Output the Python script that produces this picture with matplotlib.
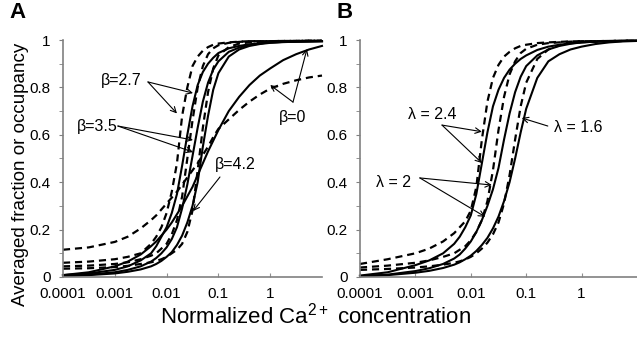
import matplotlib
matplotlib.use("Agg")
import matplotlib.pyplot as plt
import numpy as np

plt.rcParams['font.family'] = ['Liberation Sans', 'DejaVu Sans']
plt.rcParams['mathtext.fontset'] = 'custom'
plt.rcParams['mathtext.rm'] = 'Liberation Sans'
plt.rcParams['mathtext.it'] = 'Liberation Sans:italic'

# log10 of normalized Ca2+ concentration, shared by every curve
log_ca = [-4, -3.5, -3, -2.75, -2.5, -2.3, -2.2, -2.1, -2.0, -1.9, -1.8, -1.7, -1.6,
          -1.5, -1.4, -1.3, -1.2, -1.1, -1.0, -0.8, -0.6, -0.4, -0.2, 0, 0.25, 0.5,
          0.75, 1.0]

# Panel A: averaged fraction (dashed) and occupancy (solid) for each beta
a_frac_b0 = [.115, .125, .148, .17, .205, .24, .26, .285, .31, .335, .36, .39, .42,
             .45, .48, .515, .55, .59, .625, .665, .705, .74, .77, .795, .815, .83,
             .842, .85]
a_occ_b0 = [.008, .02, .045, .065, .095, .13, .15, .175, .20, .23, .265, .30, .34,
            .38, .43, .48, .53, .575, .62, .70, .76, .81, .85, .88, .915, .94,
            .96, .975]
a_frac_b27 = [.06, .065, .075, .085, .10, .14, .17, .21, .27, .36, .48, .68, .80,
              .89, .93, .955, .97, .98, .985, .99, .993, .995, .995, .995, .996, .996,
              .997, .997]
a_occ_b27 = [.008, .015, .03, .045, .07, .10, .13, .17, .21, .27, .35, .47, .60,
             .72, .81, .865, .90, .925, .945, .965, .975, .982, .986, .99, .992, .993,
             .994, .995]
a_frac_b35 = [.045, .048, .055, .062, .075, .09, .10, .12, .14, .18, .24, .34, .50,
              .66, .80, .89, .94, .965, .978, .988, .992, .995, .995, .995, .996, .996,
              .997, .997]
a_occ_b35 = [.005, .01, .02, .03, .045, .065, .08, .10, .125, .16, .21, .29, .39,
             .51, .63, .74, .82, .875, .91, .95, .968, .978, .985, .99, .992, .993,
             .994, .995]
a_frac_b42 = [.035, .037, .042, .047, .055, .062, .068, .075, .085, .10, .115, .14, .19,
              .28, .45, .63, .78, .88, .935, .97, .985, .99, .993, .994, .995, .996,
              .997, .997]
a_occ_b42 = [.004, .008, .015, .022, .032, .045, .055, .068, .085, .105, .135, .175, .23,
             .30, .40, .55, .68, .79, .86, .93, .96, .975, .983, .988, .991, .993,
             .994, .995]

# Panel B: same quantities for each lambda
b_frac_l24 = [.055, .075, .10, .12, .15, .185, .21, .235, .28, .38, .58, .74, .84,
              .895, .93, .95, .965, .975, .98, .987, .99, .992, .994, .995, .995, .996,
              .997, .997]
b_occ_l24 = [.006, .02, .05, .07, .10, .14, .17, .21, .26, .35, .48, .61, .72,
             .79, .84, .875, .90, .92, .935, .958, .972, .98, .986, .99, .993, .995,
             .996, .997]
b_frac_l2 = [.04, .048, .06, .07, .085, .10, .115, .13, .155, .19, .24, .32, .45,
             .62, .76, .855, .91, .945, .963, .98, .987, .99, .993, .995, .995, .996,
             .997, .997]
b_occ_l2 = [.004, .01, .025, .037, .055, .078, .095, .12, .15, .19, .24, .30, .37,
            .46, .58, .69, .78, .845, .89, .935, .96, .975, .984, .99, .993, .995,
            .996, .997]
b_frac_l16 = [.03, .034, .04, .045, .052, .06, .066, .074, .085, .10, .12, .145, .18,
              .23, .31, .43, .58, .72, .82, .92, .96, .978, .987, .991, .993, .995,
              .996, .997]
b_occ_l16 = [.003, .008, .018, .026, .038, .052, .062, .075, .09, .11, .135, .165, .205,
             .255, .32, .40, .50, .61, .71, .84, .91, .94, .96, .972, .983, .99,
             .994, .996]

ca = 10.0 ** np.array(log_ca)

x_ticks = [1e-4, 1e-3, 1e-2, 1e-1, 1]
x_tick_labels = ['0.0001', '0.001', '0.01', '0.1', '1']
y_ticks = [0, 0.2, 0.4, 0.6, 0.8, 1.0]
y_tick_labels = ['0', '0.2', '0.4', '0.6', '0.8', '1']

W, H = 637.0, 337.0
fig = plt.figure(figsize=(W / 100, H / 100), dpi=100)
ax_a = fig.add_axes([63 / W, 1 - 277 / H, 259 / W, 237 / H])
ax_b = fig.add_axes([360 / W, 1 - 277 / H, 277 / W, 237 / H])

dash = (0, (3.2, 2.2))


def setup(ax):
    ax.set_xscale('log')
    ax.set_xlim(1e-4, 10)
    ax.set_ylim(0, 1.0)
    ax.set_xticks(x_ticks)
    ax.set_xticklabels(x_tick_labels)
    ax.xaxis.set_minor_locator(matplotlib.ticker.NullLocator())
    ax.set_yticks(y_ticks)
    ax.set_yticklabels(y_tick_labels)
    ax.set_yticks(np.arange(0.1, 1.0, 0.2), minor=True)
    for s in ['top', 'right']:
        ax.spines[s].set_visible(False)
    for s in ['left', 'bottom']:
        ax.spines[s].set_color('#808080')
        ax.spines[s].set_linewidth(1.2)
    ax.tick_params(axis='x', direction='in', length=3, color='#909090',
                   labelsize=11, pad=7)
    ax.tick_params(axis='y', which='both', direction='out', length=3,
                   color='#808080', labelsize=11, pad=6)


def arrow(ax, tail, tip):
    ax.annotate('', xy=tip, xytext=tail,
                arrowprops=dict(arrowstyle='->', lw=0.8, color='black',
                                shrinkA=0, shrinkB=0, mutation_scale=10))


for ax in (ax_a, ax_b):
    setup(ax)

for y in (a_frac_b0, a_frac_b27, a_frac_b35, a_frac_b42):
    ax_a.plot(ca, y, color='black', lw=1.6, linestyle=dash, clip_on=False)
for y in (a_occ_b0, a_occ_b27, a_occ_b35, a_occ_b42):
    ax_a.plot(ca, y, color='black', lw=1.5, clip_on=False)

for y in (b_frac_l24, b_frac_l2, b_frac_l16):
    ax_b.plot(ca, y, color='black', lw=1.6, linestyle=dash, clip_on=False)
for y in (b_occ_l24, b_occ_l2, b_occ_l16):
    ax_b.plot(ca, y, color='black', lw=1.5, clip_on=False)

# Panel A labels
fs = 11.5
ax_a.text(10 ** -2.88, 0.83, 'β=2.7', fontsize=fs, ha='center', va='center')
arrow(ax_a, (10 ** -2.36, 0.823), (10 ** -1.49, 0.776))
arrow(ax_a, (10 ** -2.36, 0.823), (10 ** -1.80, 0.69))
ax_a.text(10 ** -3.34, 0.633, 'β=3.5', fontsize=fs, ha='center', va='center')
arrow(ax_a, (10 ** -2.94, 0.637), (10 ** -1.49, 0.578))
arrow(ax_a, (10 ** -2.94, 0.637), (10 ** -1.49, 0.527))
ax_a.text(10 ** -0.68, 0.473, 'β=4.2', fontsize=fs, ha='center', va='center')
arrow(ax_a, (10 ** -0.97, 0.422), (10 ** -1.49, 0.278))
ax_a.text(10 ** 0.44, 0.671, 'β=0', fontsize=fs, ha='center', va='center')
arrow(ax_a, (10 ** 0.44, 0.738), (10 ** 0.0, 0.81))
arrow(ax_a, (10 ** 0.44, 0.738), (10 ** 0.71, 0.962))

# Panel B labels
ax_b.text(10 ** -2.70, 0.684, 'λ = 2.4', fontsize=fs, ha='center', va='center')
arrow(ax_b, (10 ** -2.52, 0.641), (10 ** -1.80, 0.613))
arrow(ax_b, (10 ** -2.52, 0.641), (10 ** -1.80, 0.481))
ax_b.text(10 ** -3.40, 0.40, 'λ = 2', fontsize=fs, ha='center', va='center')
arrow(ax_b, (10 ** -2.92, 0.418), (10 ** -1.62, 0.388))
arrow(ax_b, (10 ** -2.92, 0.418), (10 ** -1.74, 0.254))
ax_b.text(10 ** -0.065, 0.629, 'λ = 1.6', fontsize=fs, ha='center', va='center')
arrow(ax_b, (10 ** -0.61, 0.637), (10 ** -1.08, 0.671))

fig.text(17 / W, 1 - 13 / H, 'A', fontsize=16, fontweight='bold',
         ha='center', va='center')
fig.text(345 / W, 1 - 13 / H, 'B', fontsize=16, fontweight='bold',
         ha='center', va='center')
fig.text(21 / W, 1 - 174 / H, 'Averaged fraction or occupancy', fontsize=13.5,
         rotation=90, ha='center', va='center')
fig.text(316 / W, 1 - 316 / H,
         'Normalized Ca$^{\\mathregular{2+}}$ concentration', fontsize=16,
         ha='center', va='center')

fig.savefig('out.png', dpi=100)
